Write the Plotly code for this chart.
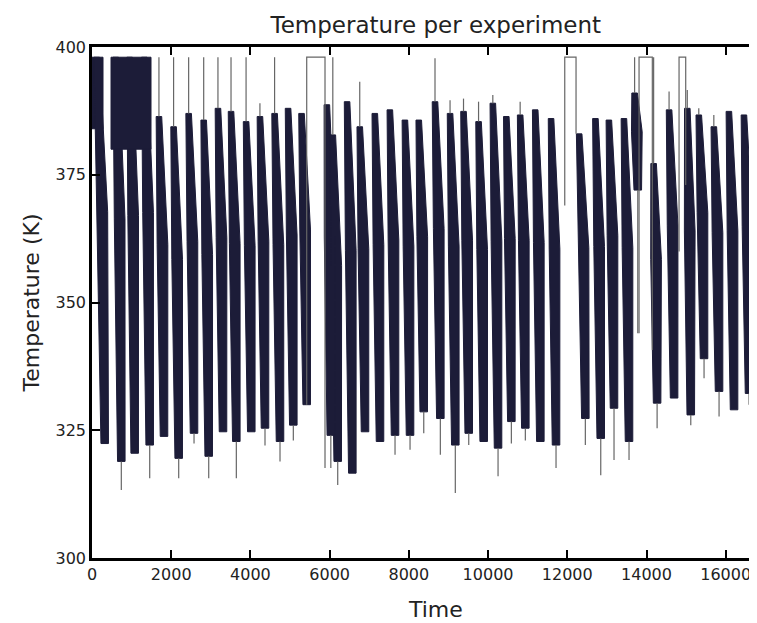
import plotly.graph_objects as go

# one entry per heating/cooling cycle (time in s, temperature in K)
cycle_top_t = [120, 600, 950, 1320, 1690, 2060, 2440, 2820, 3180, 3510, 3890, 4240, 4610, 4950, 5290,
               5930, 6080, 6440, 6760, 7140, 7520, 7900, 8250, 8660, 9040, 9380, 9760, 10120, 10460,
               10810, 11190, 11590, 12300, 12710, 13050, 13430, 13700, 14180, 14570, 15030, 15320,
               15700, 16080, 16460, 16840]
cycle_bot_t = [321, 740, 1078, 1457, 1818, 2189, 2576, 2947, 3308, 3644, 4022, 4368, 4747, 5083, 5421,
               6030, 6204, 6573, 6893, 7272, 7651, 8030, 8376, 8795, 9173, 9512, 9890, 10252, 10588,
               10941, 11320, 11716, 12456, 12845, 13180, 13559, 13780, 14268, 14697, 15118, 15453,
               15832, 16211, 16589, 16968]
cycle_hi = [398, 398, 398, 398, 386.4, 384.4, 387, 385.7, 388, 387.4, 385.4, 386.4, 387, 388, 387,
            388.7, 382.8, 389.3, 384.4, 387, 387.7, 385.7, 385.7, 389.3, 387, 387.4, 385.4, 389, 386.4,
            386.7, 387.7, 386, 383, 386, 385.7, 386, 391, 377.2, 387.7, 388, 386.7,
            384.4, 387.4, 386.7, 388.7]
cycle_lo = [322.4, 318.9, 320.5, 322.1, 323.8, 319.5, 324.4, 319.9, 324.7, 322.8, 324.7, 325.4, 322.8, 326, 330,
            324, 318.9, 316.6, 324.7, 322.8, 324, 324, 328.6, 327.3, 322.1, 324.4, 322.8, 321.5, 326.7,
            325.4, 322.8, 322.1, 327.3, 323.4, 329.3, 322.8, 372, 330.3, 331.3, 328, 339,
            332.6, 329, 332.2, 330]
spike_hi = [398, 398, 398, 398, 398, 398, 398, 398, 398, 398, 398, 389, 398, 388, 387,
            388.7, 398, 389.3, 393.2, 387, 387.7, 385.7, 385.7, 397.8, 389.6, 389.9, 389.3, 390.6, 386.4,
            389.3, 387.7, 386, 383, 386, 385.7, 386, 398, 398, 391.3, 391.6, 388,
            386.7, 387.4, 386.7, 388.7]
spike_lo = [322.4, 313.3, 320.5, 315.6, 323.8, 315.6, 322.4, 315.6, 324.7, 315.6, 324.7, 322, 318.9, 323, 330,
            317.6, 314.3, 316.6, 324.7, 322.8, 320.2, 321.2, 324.4, 320.2, 312.7, 322.1, 322.8, 316, 322.4,
            323, 322.8, 317.6, 322.1, 316.2, 319.2, 319.2, 344, 325.4, 331.3, 326, 335.2,
            327.7, 329, 330, 330]

# stretches where the sensor sat at its 398 K ceiling
flat_start = [5421, 11936, 13812, 14822]
flat_end = [5883, 12221, 14147, 14990]
flat_from = [330, 369, 344, 360]
flat_to = [317.6, 383, 340.7, 373]
CEILING = 398

# dense saturated blocks at the start of the run
block_start = [0, 480]
block_end = [278, 1490]
block_lo = [384, 380]

NAVY = "#1c1c38"
# band half widths (time units) at top, shoulder and bottom of each cycle
W_TOP, W_MID, W_BOT = 70, 135, 95

bx, by = [], []
for t0, t1, hi, lo in zip(cycle_top_t, cycle_bot_t, cycle_hi, cycle_lo):
    ym = hi - 0.4 * (hi - lo)
    tm = t0 + 0.7 * (t1 - t0)
    bx += [t0 - W_TOP, t0 + W_TOP, tm + W_MID, t1 + W_BOT, t1 - W_BOT, tm - W_MID, t0 - W_TOP, None]
    by += [hi, hi, ym, lo, lo, ym, hi, None]
for s, e, lo in zip(block_start, block_end, block_lo):
    bx += [s, e, e, s, s, None]
    by += [CEILING, CEILING, lo, lo, CEILING, None]

sx, sy = [], []
for t0, t1, hi, lo, sh, sl in zip(cycle_top_t, cycle_bot_t, cycle_hi, cycle_lo, spike_hi, spike_lo):
    if sh > hi:
        sx += [t0, t0, None]
        sy += [hi, sh, None]
    if sl < lo:
        sx += [t1, t1, None]
        sy += [lo, sl, None]
for s, e, a, b in zip(flat_start, flat_end, flat_from, flat_to):
    sx += [s, s, e, e, None]
    sy += [a, CEILING, CEILING, b, None]

fig = go.Figure()
fig.add_trace(go.Scatter(x=bx, y=by, mode="lines", fill="toself", fillcolor=NAVY,
                         line=dict(color=NAVY, width=1), hoverinfo="skip"))
fig.add_trace(go.Scatter(x=sx, y=sy, mode="lines", line=dict(color="#666666", width=1.2),
                         hoverinfo="skip"))

text_col = "#222222"
axis_font = dict(family="DejaVu Sans", size=16, color=text_col)
fig.update_xaxes(range=[0, 16790], dtick=2000, tick0=0, tickformat="d", ticks="inside", ticklen=8,
                 tickwidth=2, tickcolor="black", showline=True, linewidth=2.5, linecolor="black",
                 mirror="ticks", showgrid=False, zeroline=False, tickfont=axis_font, automargin=False)
fig.update_yaxes(range=[300, 400], dtick=25, ticks="inside", ticklen=8, tickwidth=2,
                 tickcolor="black", showline=True, linewidth=2.5, linecolor="black",
                 showgrid=False, zeroline=False, tickfont=axis_font, automargin=False,
                 title=dict(text="Temperature (K)", font=dict(family="DejaVu Sans", size=22, color=text_col),
                            standoff=10))
fig.add_annotation(text="Time", x=0.517, y=-0.10, xref="paper", yref="paper", showarrow=False,
                   font=dict(family="DejaVu Sans", size=22, color=text_col), yanchor="middle")
fig.update_layout(
    width=749, height=615,
    margin=dict(l=84, r=0, t=39, b=65),
    plot_bgcolor="white", paper_bgcolor="white",
    showlegend=False,
    title=dict(text="Temperature per experiment", xref="paper", x=0.517, xanchor="center",
               yref="container", y=0.985, yanchor="top",
               font=dict(family="DejaVu Sans", size=23, color=text_col)),
)
fig.write_html("out.html")
